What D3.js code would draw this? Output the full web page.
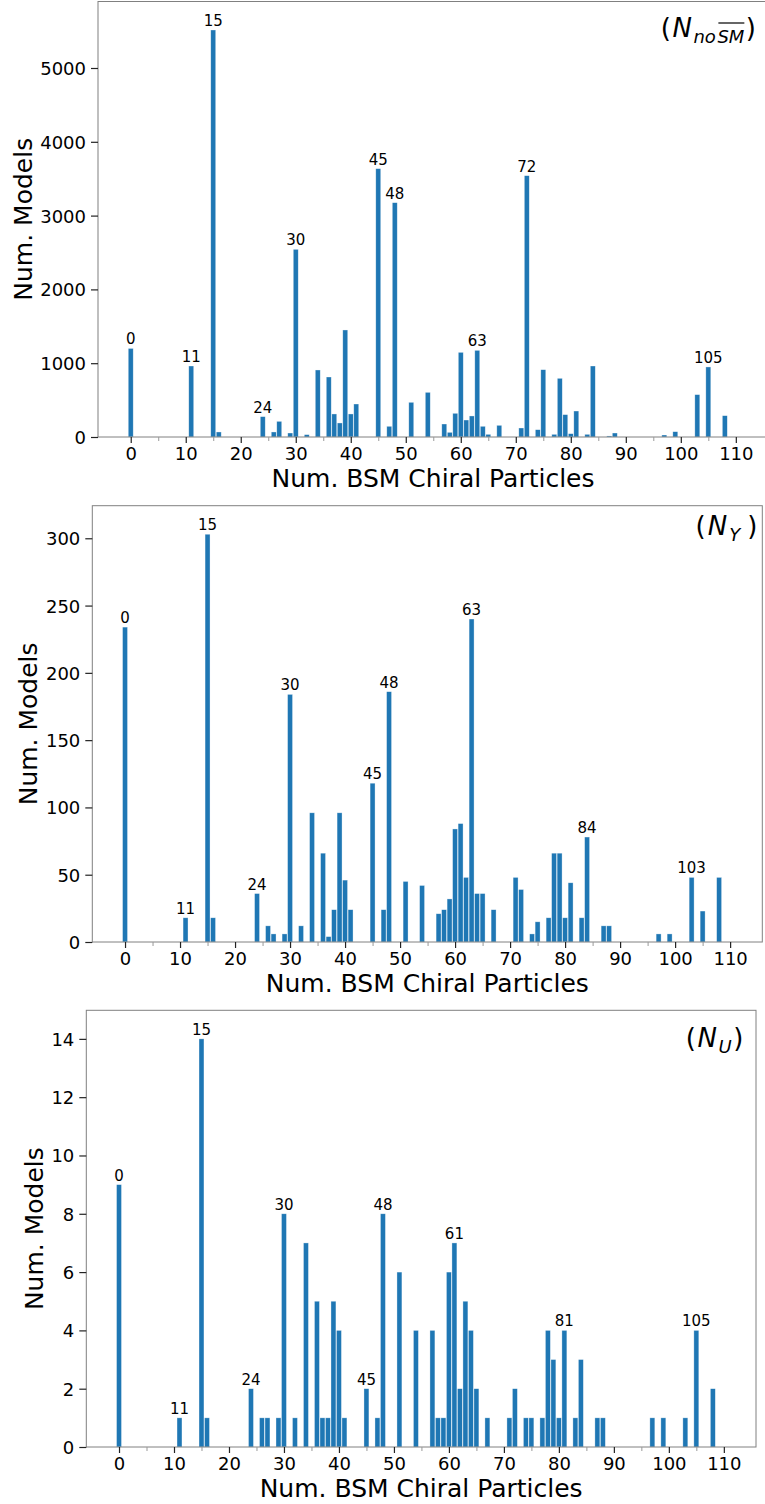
<!DOCTYPE html>
<html>
<head>
<meta charset="utf-8">
<script src="https://cdn.jsdelivr.net/npm/d3@7"></script>
<style>
  html, body { margin: 0; padding: 0; background: #ffffff; }
  svg { display: block; font-family: "DejaVu Sans", sans-serif; }
</style>
</head>
<body>
<svg id="chart" width="765" height="1504"></svg>
<script>
// ---- data ----
const counts = [0, 11, 15, 16, 24, 26, 27, 29, 30, 32, 34, 36, 37, 38, 39, 40, 41, 45, 47, 48,
  51, 54, 57, 58, 59, 60, 61, 62, 63, 64, 65, 67, 71, 72, 74, 75, 77, 78, 79, 80,
  81, 83, 84, 87, 88, 97, 99, 103, 105, 108];

const nNoSM = [1200, 962, 5515, 68, 276, 68, 212, 54, 2543, 32, 908, 813, 312, 190, 1450, 312, 447, 3636, 145, 3175,
  470, 605, 176, 63, 321, 1147, 230, 285, 1174, 145, 36, 158, 122, 3541, 99, 912, 36, 795, 303, 45,
  352, 36, 962, 14, 54, 27, 72, 574, 949, 289];

const nY = [234, 18, 303, 18, 36, 12, 6, 6, 184, 12, 96, 66, 4, 24, 96, 46, 24, 118, 24, 186,
  45, 42, 21, 24, 32, 84, 88, 48, 240, 36, 36, 24, 48, 39, 6, 15, 18, 66, 66, 18,
  44, 18, 78, 12, 12, 6, 6, 48, 23, 48];

const nU = [9, 1, 14, 1, 2, 1, 1, 1, 8, 1, 7, 5, 1, 1, 5, 4, 1, 2, 1, 8,
  6, 4, 4, 1, 1, 6, 7, 2, 5, 4, 2, 1, 1, 2, 1, 1, 1, 4, 3, 1,
  4, 1, 3, 1, 1, 1, 1, 1, 4, 2];

const labelsNoSM = [0, 11, 15, 24, 30, 45, 48, 63, 72, 105];
const labelsY = [0, 11, 15, 24, 30, 45, 48, 63, 84, 103];
const labelsU = [0, 11, 15, 24, 30, 45, 48, 61, 81, 105];

const yTicksNoSM = [0, 1000, 2000, 3000, 4000, 5000];
const yTicksY = [0, 50, 100, 150, 200, 250, 300];
const yTicksU = [0, 2, 4, 6, 8, 10, 12, 14];

const xTicks = [0, 10, 20, 30, 40, 50, 60, 70, 80, 90, 100, 110];
const xMinorTicks = [5, 15, 25, 35, 45, 55, 65, 75, 85, 95, 105];

const xLabel = "Num. BSM Chiral Particles";
const yLabel = "Num. Models";

// ---- layout ----
const svg = d3.select("#chart");
const barColor = "#1f77b4";
const spineColor = "#808080";

const panels = [
  { values: nNoSM, labels: labelsNoSM, yTicks: yTicksNoSM,
    left: 98, top: 1.5, right: 768, bottom: 437, ylabelX: 31.5,
    title: [{t: "(", it: false, g: 1.5}, {t: "N", it: true, g: 1.5}, {t: "no", it: true, sub: true, g: 1.5}, {t: "SM", it: true, sub: true, over: true, g: 1.5}, {t: ")", it: false, g: 0}],
    titleRight: 756, titleBase: 36.5 },
  { values: nY, labels: labelsY, yTicks: yTicksY,
    left: 92.3, top: 505.7, right: 762.3, bottom: 942, ylabelX: 36.5,
    title: [{t: "(", it: false, g: 2}, {t: "N", it: true, g: 2}, {t: "Y", it: true, sub: true, g: 7}, {t: ")", it: false, g: 0}],
    titleRight: 757.3, titleBase: 534.5 },
  { values: nU, labels: labelsU, yTicks: yTicksU,
    left: 86.3, top: 1010.3, right: 756, bottom: 1447, ylabelX: 42.5,
    title: [{t: "(", it: false, g: 1.5}, {t: "N", it: true, g: 1.5}, {t: "U", it: true, sub: true, g: 1.5}, {t: ")", it: false, g: 0}],
    titleRight: 743.3, titleBase: 1047 }
];

panels.forEach(p => {
  const g = svg.append("g");
  const x = d3.scaleLinear().domain([-5.95, 115.85]).range([p.left, p.right]);
  const y = d3.scaleLinear().domain([0, d3.max(p.values) * 1.07]).range([p.bottom, p.top]);
  const unit = x(1) - x(0);
  const bw = 0.9 * unit;

  const data = counts.map((c, i) => ({c, v: p.values[i]}));

  // bars
  g.append("g").selectAll("rect").data(data).join("rect")
    .attr("x", d => x(d.c) - bw / 2)
    .attr("y", d => y(d.v))
    .attr("width", bw)
    .attr("height", d => y(0) - y(d.v))
    .attr("fill", barColor)
    .attr("stroke", "#ffffff")
    .attr("stroke-opacity", 0.55)
    .attr("stroke-width", 0.6);

  // bar labels
  g.append("g").selectAll("text").data(data.filter(d => p.labels.includes(d.c))).join("text")
    .attr("x", d => x(d.c))
    .attr("y", d => y(d.v) - 4)
    .attr("text-anchor", "middle")
    .attr("font-size", 15)
    .attr("fill", "#000")
    .text(d => d.c);

  // frame
  g.append("rect")
    .attr("x", p.left).attr("y", p.top)
    .attr("width", p.right - p.left).attr("height", p.bottom - p.top)
    .attr("fill", "none").attr("stroke", spineColor).attr("stroke-width", 1);

  // x axis
  const xAxis = d3.axisBottom(x).tickValues(xTicks).tickSize(6).tickPadding(4).tickFormat(d3.format("d"));
  const xa = g.append("g").attr("transform", `translate(0,${p.bottom})`).call(xAxis);
  xa.select(".domain").remove();
  xa.selectAll(".tick line").attr("stroke", "#222").attr("stroke-width", 1.2);
  xa.selectAll(".tick text").attr("font-size", 18).attr("fill", "#000")
    .attr("font-family", "DejaVu Sans").attr("dy", "0.72em");

  const xMinor = d3.axisBottom(x).tickValues(xMinorTicks).tickSize(4).tickFormat("");
  const xm = g.append("g").attr("transform", `translate(0,${p.bottom})`).call(xMinor);
  xm.select(".domain").remove();
  xm.selectAll(".tick line").attr("stroke", "#999").attr("stroke-width", 1);

  // y axis
  const yAxis = d3.axisLeft(y).tickValues(p.yTicks).tickSize(7).tickPadding(5).tickFormat(d3.format("d"));
  const ya = g.append("g").attr("transform", `translate(${p.left},0)`).call(yAxis);
  ya.select(".domain").remove();
  ya.selectAll(".tick line").attr("stroke", "#222").attr("stroke-width", 1.2);
  ya.selectAll(".tick text").attr("font-size", 18).attr("fill", "#000")
    .attr("font-family", "DejaVu Sans").attr("dy", "0.36em");

  // axis labels
  g.append("text")
    .attr("x", (p.left + p.right) / 2)
    .attr("y", p.bottom + 50)
    .attr("text-anchor", "middle")
    .attr("font-size", 25)
    .attr("fill", "#000")
    .text(xLabel);

  g.append("text")
    .attr("transform", `translate(${p.ylabelX},${(p.top + p.bottom) / 2}) rotate(-90)`)
    .attr("text-anchor", "middle")
    .attr("font-size", 25)
    .attr("fill", "#000")
    .text(yLabel);

  // title (math-like)
  const tg = g.append("g");
  const bigSize = 26, subSize = 18, subShift = 6;
  const nodes = p.title.map(pc => {
    const t = tg.append("text")
      .attr("font-size", pc.sub ? subSize : bigSize)
      .attr("font-style", pc.it ? "italic" : "normal")
      .attr("fill", "#000")
      .text(pc.t);
    return {pc, t, w: t.node().getComputedTextLength()};
  });
  const total = d3.sum(nodes, n => n.w + n.pc.g);
  let cx = p.titleRight - total;
  nodes.forEach(n => {
    const by = p.titleBase + (n.pc.sub ? subShift : 0);
    n.t.attr("x", cx).attr("y", by);
    if (n.pc.over) {
      tg.append("line")
        .attr("x1", cx + 1).attr("x2", cx + n.w)
        .attr("y1", by - 19.5).attr("y2", by - 19.5)
        .attr("stroke", "#000").attr("stroke-width", 1.2);
    }
    cx += n.w + n.pc.g;
  });
});
</script>
</body>
</html>
